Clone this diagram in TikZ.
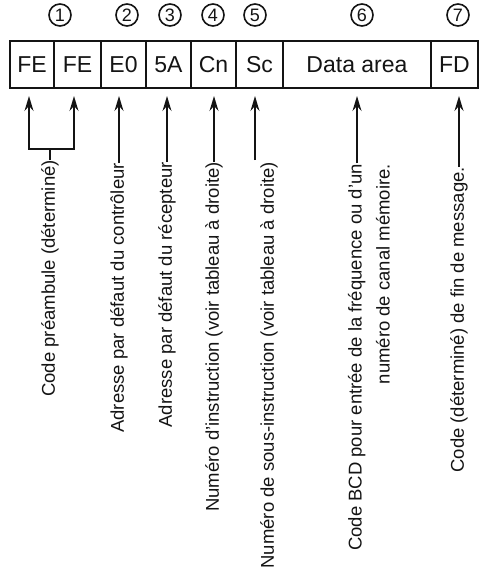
\documentclass[tikz,border=0pt]{standalone}
\usepackage{fontspec}
\setmainfont{Liberation Sans}
\usetikzlibrary{arrows.meta, positioning}
\definecolor{inkMain}{RGB}{20, 20, 20}

\begin{document}
\begin{tikzpicture}[
    x=1pt, y=-1pt,
    fieldNode/.style={rectangle, draw=inkMain, text=inkMain, minimum height=47pt, inner sep=0pt, outer sep=0pt, line width=1.8pt, font=\fontsize{23}{26}\selectfont},
    numNode/.style={circle, draw=inkMain, text=inkMain, minimum size=22pt, inner sep=0pt, line width=1.6pt, font=\fontsize{18}{20}\selectfont},
    noteNode/.style={rotate=90, anchor=east, inner sep=0pt, text=inkMain, align=right, font=\fontsize{18.5}{28}\selectfont},
    pointer/.style={-{Stealth[length=15pt, width=9pt, inset=5pt]}, line width=1.6pt, draw=inkMain, shorten >=8pt},
    wire/.style={line width=1.6pt, draw=inkMain}
  ]
    \useasboundingbox (0,0) rectangle (479,568);

    % Message frame
    \node[fieldNode, minimum width=44pt] (fe1) at (32,64.5) {FE};
    \node[fieldNode, minimum width=47pt, right=0pt of fe1] (fe2) {FE};
    \node[fieldNode, minimum width=45pt, right=0pt of fe2] (e0) {E0};
    \node[fieldNode, minimum width=45pt, right=0pt of e0] (fa) {5A};
    \node[fieldNode, minimum width=45pt, right=0pt of fa] (cn) {Cn};
    \node[fieldNode, minimum width=47pt, right=0pt of cn] (sc) {Sc};
    \node[fieldNode, minimum width=148pt, right=0pt of sc] (data) {Data area};
    \node[fieldNode, minimum width=47pt, right=0pt of data] (fd) {FD};

    % Field numbers
    \node[numNode] (n1) at (60,15) {1};
    \node[numNode] (n2) at (127,15) {2};
    \node[numNode] (n3) at (170,15) {3};
    \node[numNode] (n4) at (213,15) {4};
    \node[numNode] (n5) at (255,15) {5};
    \node[numNode] (n6) at (362,15) {6};
    \node[numNode] (n7) at (458,15) {7};

    % Field descriptions
    \node[noteNode] (lbl1) at (50,160) {Code préambule (déterminé)};
    \node[noteNode] (lbl2) at (119,163) {Adresse par défaut du contrôleur};
    \node[noteNode] (lbl3) at (167,162) {Adresse par défaut du récepteur};
    \node[noteNode] (lbl4) at (214,162) {Numéro d'instruction (voir tableau à droite)};
    \node[noteNode] (lbl5) at (269,162) {Numéro de sous-instruction (voir tableau à droite)};
    \node[noteNode] (lbl6) at (369,164) {Code BCD pour entrée de la fréquence ou d'un\\numéro de canal mémoire.};
    \node[noteNode] (lbl7) at (459,167) {Code (déterminé) de fin de message.};

    % Joint and feet of the leaders
    \coordinate (j1) at (50,149);
    \coordinate (t5) at (255,160);
    \coordinate (t6) at (357,163);

    % Leaders
    \draw[wire] (lbl1.east) -- (j1);
    \draw[pointer] (j1) -| ([xshift=-3pt]fe1.south);
    \draw[pointer] (j1) -| ([xshift=-3.5pt]fe2.south);
    \draw[pointer] (lbl2.east) -- (lbl2.east |- e0.south);
    \draw[pointer] (lbl3.east) -- (lbl3.east |- fa.south);
    \draw[pointer] (lbl4.east) -- (lbl4.east |- cn.south);
    \draw[pointer] (t5) -- (t5 |- sc.south);
    \draw[pointer] (t6) -- (t6 |- data.south);
    \draw[pointer] (lbl7.east) -- (lbl7.east |- fd.south);
  \end{tikzpicture}
\end{document}
